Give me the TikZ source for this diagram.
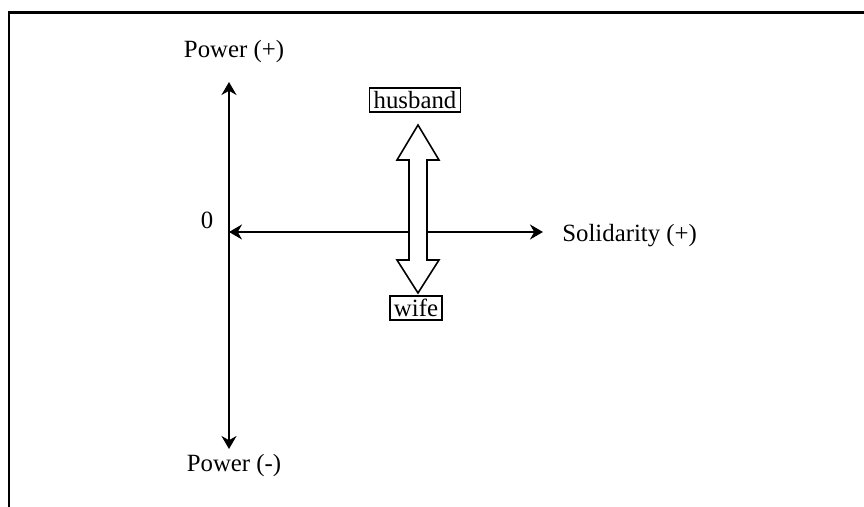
\documentclass[tikz,border=0pt]{standalone}
\usepackage{fontspec}
\setmainfont{Liberation Serif}
\usetikzlibrary{arrows.meta}

\begin{document}
\begin{tikzpicture}[x=0.5pt,y=-0.5pt,
        txt/.style={font=\fontsize{12.4}{14}\selectfont, inner sep=0pt},
        tag/.style={txt, draw, line width=0.7pt, inner xsep=2pt, inner ysep=1.6pt},
        axis/.style={line width=0.85pt, {Stealth[length=6.5pt,width=7.5pt]}-{Stealth[length=6.5pt,width=7.5pt]}}]
        \useasboundingbox (0,0) rectangle (864,507);

        % frame
        \draw[line width=1.2pt] (9,507) -- (9,12.5) -- (864,12.5);

        % axis ends
        \coordinate (origin) at (229,232);
        \coordinate (top) at (229,82);
        \coordinate (bottom) at (229,449);
        \coordinate (right) at (543,232);

        % labels
        \node[txt] (powerplus) at (234,52) {Power (+)};
        \node[txt] (powerminus) at (234,466) {Power (-)};
        \node[txt] (zero) at (207,220) {0};
        \node[txt, anchor=west] (solidarity) at (562,236) {Solidarity (+)};

        % axes
        \draw[axis] (top) -- (bottom);
        \draw[axis] (origin) -- (right);

        % double arrow
        \draw[line width=0.8pt, fill=white] (418,125) -- (439,160) -- (427,160) -- (427,260) -- (439,260)
            -- (418,293) -- (397,260) -- (409,260) -- (409,160) -- (397,160) -- cycle;

        % husband and wife
        \node[tag] (husband) at (415,100) {husband};
        \node[tag] (wife) at (416,308) {wife};
\end{tikzpicture}
\end{document}
